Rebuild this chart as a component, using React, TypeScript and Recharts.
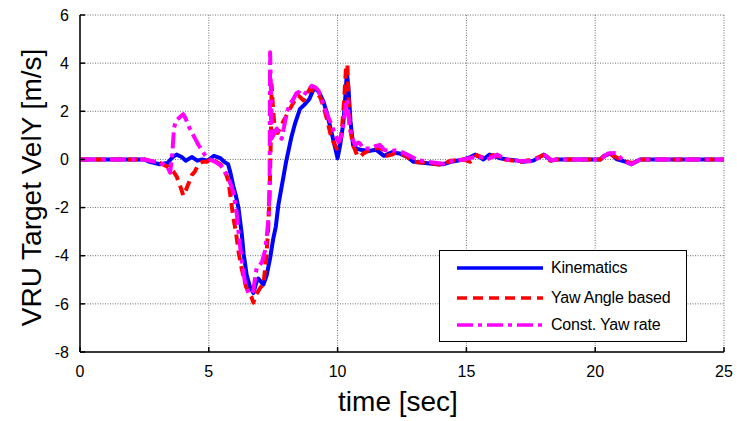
import React from 'react';
import {
  LineChart,
  Line,
  XAxis,
  YAxis,
  CartesianGrid,
  Legend
} from 'recharts';

const FONT = "Arial, 'Liberation Sans', sans-serif";

const X_TICKS = [0, 5, 10, 15, 20, 25];
const Y_TICKS = [-8, -6, -4, -2, 0, 2, 4, 6];

// Kinematics (blue, solid)
const kinT = [0, 2.5, 2.7, 3.1, 3.4, 3.6, 3.75, 3.95, 4.1, 4.35, 4.55, 4.75, 4.95, 5.2, 5.45, 5.6, 5.75, 5.85, 5.95, 6.05, 6.15, 6.28, 6.35, 6.47, 6.6, 6.73, 6.85, 6.92, 7.0, 7.12, 7.25, 7.38, 7.5, 7.6, 7.7, 7.8, 7.9, 8.0, 8.1, 8.2, 8.35, 8.54, 8.74, 8.9, 9.06, 9.2, 9.3, 9.45, 9.58, 9.77, 9.9, 10.0, 10.1, 10.22, 10.3, 10.36, 10.42, 10.5, 10.6, 10.75, 10.9, 11.2, 11.5, 11.8, 12.1, 12.4, 12.7, 12.95, 13.4, 13.85, 14.1, 14.4, 14.9, 15.15, 15.35, 15.66, 15.9, 16.3, 16.6, 17.0, 17.2, 17.6, 18.0, 18.3, 18.5, 20.2, 20.35, 20.6, 20.85, 21.2, 21.4, 21.75, 25];
const kinV = [0, 0, -0.1, -0.2, -0.15, 0.1, 0.2, 0.1, -0.05, 0.1, -0.05, 0, -0.05, 0.15, 0.05, -0.1, -0.2, -0.6, -1.1, -1.5, -2.0, -3.1, -3.9, -4.8, -5.3, -5.55, -5.1, -4.95, -5.05, -5.2, -4.8, -4.1, -3.3, -2.8, -1.9, -1.3, -0.7, -0.1, 0.4, 0.9, 1.5, 2.1, 2.3, 2.5, 2.9, 2.9, 2.75, 2.4, 1.95, 1.1, 0.5, 0.05, 0.6, 1.5, 2.6, 3.6, 3.0, 1.6, 0.6, 0.45, 0.4, 0.35, 0.4, 0.15, 0.3, 0.25, 0.1, -0.1, -0.15, -0.2, -0.2, -0.1, 0, 0.1, 0.2, 0, 0.2, 0.05, 0, -0.05, -0.1, -0.05, 0.2, -0.05, 0, 0, 0.15, 0.25, 0, -0.1, -0.2, 0, 0];

// Yaw Angle based (red, dashed)
const yawT = [0, 2.5, 2.7, 3.1, 3.4, 3.62, 3.75, 3.82, 3.92, 4.01, 4.14, 4.25, 4.34, 4.46, 4.6, 4.75, 4.92, 5.1, 5.3, 5.45, 5.57, 5.7, 5.76, 5.83, 5.95, 6.05, 6.15, 6.25, 6.35, 6.45, 6.54, 6.65, 6.73, 6.8, 6.93, 7.02, 7.12, 7.22, 7.3, 7.36, 7.41, 7.44, 7.5, 7.57, 7.67, 7.77, 7.9, 8.03, 8.15, 8.28, 8.48, 8.58, 8.68, 8.8, 8.93, 9.05, 9.13, 9.32, 9.45, 9.58, 9.77, 9.9, 9.97, 10.08, 10.16, 10.25, 10.33, 10.38, 10.42, 10.48, 10.6, 10.75, 10.87, 11.0, 11.13, 11.26, 11.45, 11.65, 11.8, 11.9, 12.1, 12.3, 12.6, 12.95, 13.6, 14.05, 14.4, 14.9, 15.15, 15.4, 15.7, 16.05, 16.5, 17.1, 17.6, 18.0, 18.25, 18.5, 20.2, 20.4, 20.6, 20.9, 21.2, 21.45, 21.75, 25];
const yawV = [0, 0, -0.05, -0.15, -0.3, -0.5, -0.7, -0.9, -1.2, -1.5, -1.2, -0.9, -0.65, -0.5, -0.2, -0.1, -0.1, 0.05, -0.1, -0.2, -0.37, -0.7, -0.9, -1.45, -2.4, -3.0, -3.8, -4.4, -4.9, -5.3, -5.5, -5.7, -5.95, -5.7, -5.45, -5.3, -5.2, -4.2, -3.0, -1.5, 1.0, 3.1, 2.0, 1.15, 1.1, 1.3, 1.6, 1.85, 2.1, 2.35, 2.65, 2.55, 2.45, 2.7, 2.95, 2.85, 2.8, 2.6, 2.2, 1.7, 0.85, 0.6, 0.45, 0.7, 1.15, 2.4, 3.9, 3.95, 2.65, 1.3, 0.6, 0.2, 0.1, 0.25, 0.32, 0.45, 0.45, 0.5, 0.35, 0.15, 0.2, 0.3, 0.18, -0.1, -0.16, -0.23, -0.05, 0, -0.1, 0.18, 0.05, 0.18, 0, -0.1, 0, 0.18, -0.05, 0, 0, 0.2, 0.2, 0.05, -0.1, -0.15, 0, 0];

// Const. Yaw rate (magenta, dash-dot)
const cyrT = [0, 2.5, 2.7, 3.1, 3.37, 3.5, 3.58, 3.65, 3.72, 3.82, 3.92, 4.01, 4.1, 4.2, 4.3, 4.4, 4.5, 4.6, 4.72, 4.85, 4.95, 5.1, 5.25, 5.44, 5.57, 5.7, 5.82, 5.95, 6.08, 6.18, 6.28, 6.41, 6.54, 6.65, 6.73, 6.8, 6.86, 6.96, 7.06, 7.18, 7.25, 7.32, 7.36, 7.38, 7.41, 7.44, 7.55, 7.64, 7.73, 7.83, 7.93, 8.03, 8.15, 8.28, 8.4, 8.48, 8.6, 8.68, 8.85, 9.0, 9.13, 9.26, 9.38, 9.51, 9.64, 9.77, 9.9, 10.03, 10.14, 10.22, 10.3, 10.35, 10.4, 10.46, 10.56, 10.68, 10.8, 10.87, 11.0, 11.26, 11.45, 11.65, 11.8, 12.0, 12.3, 12.6, 12.8, 13.1, 13.5, 13.85, 14.1, 14.4, 14.9, 15.3, 15.5, 15.8, 16.2, 16.5, 17.0, 17.5, 18.05, 18.3, 18.5, 20.2, 20.5, 20.8, 21.05, 21.4, 21.75, 25];
const cyrV = [0, 0, -0.05, -0.15, -0.25, -0.55, 0.2, 1.3, 1.6, 1.7, 1.8, 1.88, 1.7, 1.42, 1.2, 1.0, 0.8, 0.6, 0.4, 0.18, 0.05, -0.03, -0.1, -0.23, -0.4, -0.64, -0.95, -1.35, -2.2, -3.3, -4.2, -5.15, -5.55, -5.6, -5.45, -4.9, -4.5, -4.4, -4.28, -3.8, -3.2, -2.4, -1.0, 4.45, 3.0, 0.86, 1.1, 1.28, 1.0, 0.86, 1.4, 1.96, 2.3, 2.5, 2.75, 2.8, 2.7, 2.65, 2.9, 3.06, 3.0, 2.86, 2.5, 2.1, 1.75, 1.42, 1.05, 0.73, 0.95, 1.42, 2.1, 2.5, 2.2, 1.42, 0.9, 0.6, 0.7, 0.66, 0.45, 0.45, 0.55, 0.6, 0.4, 0.35, 0.38, 0.25, 0.15, -0.03, -0.1, -0.15, -0.18, -0.08, 0, 0.1, 0.12, 0, 0.2, 0, -0.05, -0.08, 0.18, -0.03, 0, 0, 0.25, 0.27, 0, -0.2, 0, 0];

const SERIES = [
  { name: 'Kinematics', color: '#0000FF', dash: undefined as string | undefined, t: kinT, v: kinV },
  { name: 'Yaw Angle based', color: '#FF0000', dash: '10 6', t: yawT, v: yawV },
  { name: 'Const. Yaw rate', color: '#FF00FF', dash: '16 5 4 5', t: cyrT, v: cyrV }
];

const toPoints = (t: number[], v: number[]) => t.map((x, i) => ({ t: x, v: v[i] }));

const LegendBox = () => (
  <div
    style={{
      width: 248,
      height: 92,
      boxSizing: 'border-box',
      border: '1px solid #000',
      background: '#fff',
      position: 'relative',
      fontFamily: FONT,
      fontSize: 16,
      color: '#000'
    }}
  >
    {SERIES.map((s, i) => (
      <div
        key={s.name}
        style={{ position: 'absolute', left: 17, top: [17, 47, 74][i] - 10, height: 20, display: 'flex', alignItems: 'center' }}
      >
        <svg width={86} height={20} style={{ display: 'block' }}>
          <line x1={0} y1={10} x2={86} y2={10} stroke={s.color} strokeWidth={3.5} strokeDasharray={s.dash} />
        </svg>
        <span style={{ marginLeft: 8, whiteSpace: 'nowrap', letterSpacing: -0.2 }}>{s.name}</span>
      </div>
    ))}
  </div>
);

const tickStyle = { fontSize: 16, fill: '#000', fontFamily: FONT };

export default function App() {
  return (
    <div style={{ position: 'absolute', left: 0, top: 0, background: '#fff' }}>
      <LineChart width={737} height={421} margin={{ top: 14, right: 12, left: 0, bottom: 0 }}>
        <CartesianGrid stroke="#6e6e6e" strokeDasharray="1 1.5" />
        <XAxis
          dataKey="t"
          type="number"
          domain={[0, 25]}
          ticks={X_TICKS}
          interval={0}
          height={69}
          tickSize={-5}
          tickMargin={19}
          tick={tickStyle}
          tickLine={{ stroke: '#000', strokeWidth: 1.5 }}
          axisLine={{ stroke: '#000', strokeWidth: 1.5 }}
          label={{ value: 'time [sec]', position: 'center', dx: -4, dy: 15, style: { fontSize: 28, fill: '#000', fontFamily: FONT } }}
        />
        <XAxis
          xAxisId="top"
          orientation="top"
          type="number"
          domain={[0, 25]}
          ticks={X_TICKS}
          interval={0}
          height={1}
          tickSize={-5}
          tick={false}
          tickLine={{ stroke: '#000', strokeWidth: 1.5 }}
          axisLine={false}
        />
        <YAxis
          type="number"
          domain={[-8, 6]}
          ticks={Y_TICKS}
          interval={0}
          width={80}
          tickSize={-5}
          tickMargin={16}
          tick={tickStyle}
          tickLine={{ stroke: '#000', strokeWidth: 1.5 }}
          axisLine={{ stroke: '#000', strokeWidth: 1.5 }}
          label={{ value: 'VRU Target VelY [m/s]', angle: -90, position: 'center', dx: -9, dy: 4, style: { fontSize: 28, fill: '#000', fontFamily: FONT } }}
        />
        <YAxis
          yAxisId="right"
          orientation="right"
          type="number"
          domain={[-8, 6]}
          ticks={Y_TICKS}
          interval={0}
          width={1}
          tickSize={-5}
          tick={false}
          tickLine={{ stroke: '#000', strokeWidth: 1.5 }}
          axisLine={false}
        />
        {SERIES.map((s) => (
          <Line
            key={s.name}
            data={toPoints(s.t, s.v)}
            dataKey="v"
            name={s.name}
            type="linear"
            stroke={s.color}
            strokeWidth={4}
            strokeDasharray={s.dash}
            strokeLinejoin="round"
            dot={false}
            activeDot={false}
            isAnimationActive={false}
          />
        ))}
        <Legend
          layout="vertical"
          align="center"
          verticalAlign="middle"
          wrapperStyle={{ left: 439, top: 250, width: 248, height: 92 }}
          content={() => <LegendBox />}
        />
      </LineChart>
    </div>
  );
}
